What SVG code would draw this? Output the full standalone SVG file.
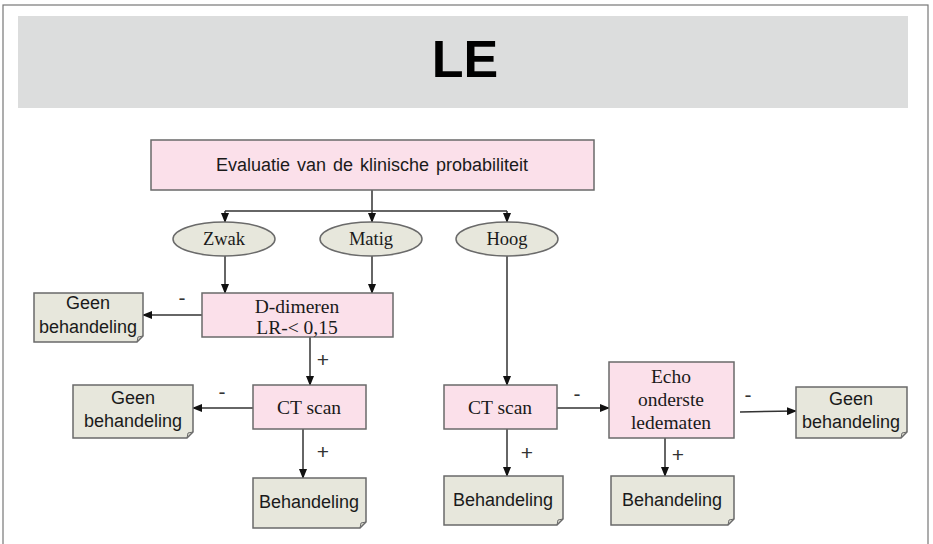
<svg xmlns="http://www.w3.org/2000/svg" width="933" height="544" viewBox="0 0 933 544">
<style>
.box{fill:#fbe0ea;stroke:#6a6a6a;stroke-width:1.5}
.note{fill:#e7e7dc;stroke:#6a6a6a;stroke-width:1.5}
.ell{fill:#e7e7dc;stroke:#6a6a6a;stroke-width:1.5}
.ln{fill:none;stroke:#333;stroke-width:1.5}
.fold{fill:none;stroke:#6a6a6a;stroke-width:1}
.sans{font-family:"Liberation Sans",Arial,sans-serif;fill:#1a1a1a;text-anchor:middle;font-size:18px}
.serif{font-family:"Liberation Serif","Times New Roman",serif;fill:#1a1a1a;text-anchor:middle;font-size:19.5px}
.sign{font-family:"Liberation Sans",Arial,sans-serif;fill:#333;font-size:21px;text-anchor:middle}
</style>
<defs>
<marker id="ah" markerWidth="10" markerHeight="8" refX="9" refY="4" orient="auto" markerUnits="userSpaceOnUse">
<path d="M0,0 L10,4 L0,8 Z" fill="#111"/>
</marker>
</defs>
<rect x="3" y="5" width="925" height="545" fill="#ffffff" stroke="#777" stroke-width="1.2"/>
<rect x="18" y="16" width="890" height="92" fill="#dcdddd"/>
<text x="465" y="77" class="sans" style="font-size:52px;font-weight:bold;fill:#000">LE</text>

<g id="connectors">
<path class="ln" d="M372,190 V211"/>
<path class="ln" d="M225,211 H507"/>
<path class="ln" d="M225,211 V222" marker-end="url(#ah)"/>
<path class="ln" d="M372,211 V222" marker-end="url(#ah)"/>
<path class="ln" d="M507,211 V222" marker-end="url(#ah)"/>
<path class="ln" d="M225,256 V293" marker-end="url(#ah)"/>
<path class="ln" d="M372,256 V293" marker-end="url(#ah)"/>
<path class="ln" d="M202,315 H143" marker-end="url(#ah)"/>
<path class="ln" d="M310,337 V385" marker-end="url(#ah)"/>
<path class="ln" d="M253,408 H193" marker-end="url(#ah)"/>
<path class="ln" d="M303,429 V478" marker-end="url(#ah)"/>
<path class="ln" d="M507,256 V385" marker-end="url(#ah)"/>
<path class="ln" d="M557,408 H609" marker-end="url(#ah)"/>
<path class="ln" d="M740,412 L796,411" marker-end="url(#ah)"/>
<path class="ln" d="M507,429 V476" marker-end="url(#ah)"/>
<path class="ln" d="M665,438 V476" marker-end="url(#ah)"/>
<text x="182" y="305" class="sign">-</text>
<text x="323" y="367" class="sign">+</text>
<text x="222" y="399" class="sign">-</text>
<text x="323" y="459" class="sign">+</text>
<text x="577" y="401" class="sign">-</text>
<text x="527" y="460" class="sign">+</text>
<text x="748" y="402" class="sign">-</text>
<text x="678" y="462" class="sign">+</text>
</g>

<g id="evaluatie">
<rect class="box" x="151" y="140" width="443" height="50"/>
<text x="372" y="171" class="sans" style="word-spacing:2px">Evaluatie van de klinische probabiliteit</text>
</g>
<g id="zwak">
<ellipse class="ell" cx="224" cy="239" rx="51" ry="17"/>
<text x="224" y="245" class="serif" style="font-size:18.5px">Zwak</text>
</g>
<g id="matig">
<ellipse class="ell" cx="371" cy="239" rx="51" ry="17"/>
<text x="371" y="245" class="serif" style="font-size:18.5px">Matig</text>
</g>
<g id="hoog">
<ellipse class="ell" cx="507" cy="239" rx="51" ry="17"/>
<text x="507" y="245" class="serif" style="font-size:18.5px">Hoog</text>
</g>
<g id="ddimeren">
<rect class="box" x="202" y="293" width="191" height="44"/>
<text x="297" y="313" class="serif">D-dimeren</text>
<text x="297" y="334" class="serif">LR-&lt; 0,15</text>
</g>
<g id="geen1">
<path class="note" d="M34,293 H143 V336 L137,342 H34 Z"/>
<path class="fold" d="M137,342 L138,337 L143,336"/>
<text x="88" y="309" class="sans">Geen</text>
<text x="88" y="333" class="sans">behandeling</text>
</g>
<g id="ctscan1">
<rect class="box" x="253" y="385" width="113" height="44"/>
<text x="309" y="414" class="serif">CT scan</text>
</g>
<g id="geen2">
<path class="note" d="M73,385 H193 V432 L187,438 H73 Z"/>
<path class="fold" d="M187,438 L188,433 L193,432"/>
<text x="133" y="404" class="sans">Geen</text>
<text x="133" y="427" class="sans">behandeling</text>
</g>
<g id="behandeling1">
<path class="note" d="M253,478 H366 V522 L360,528 H253 Z"/>
<path class="fold" d="M360,528 L361,523 L366,522"/>
<text x="309" y="508" class="sans">Behandeling</text>
</g>
<g id="ctscan2">
<rect class="box" x="444" y="385" width="113" height="44"/>
<text x="500" y="414" class="serif">CT scan</text>
</g>
<g id="echo">
<rect class="box" x="609" y="362" width="125" height="76"/>
<text x="671" y="383" class="serif">Echo</text>
<text x="671" y="406" class="serif">onderste</text>
<text x="671" y="429" class="serif">ledematen</text>
</g>
<g id="geen3">
<path class="note" d="M796,387 H907 V432 L901,438 H796 Z"/>
<path class="fold" d="M901,438 L902,433 L907,432"/>
<text x="851" y="405" class="sans">Geen</text>
<text x="851" y="428" class="sans">behandeling</text>
</g>
<g id="behandeling2">
<path class="note" d="M444,476 H563 V519 L557,525 H444 Z"/>
<path class="fold" d="M557,525 L558,520 L563,519"/>
<text x="503" y="506" class="sans">Behandeling</text>
</g>
<g id="behandeling3">
<path class="note" d="M611,476 H734 V519 L728,525 H611 Z"/>
<path class="fold" d="M728,525 L729,520 L734,519"/>
<text x="672" y="506" class="sans">Behandeling</text>
</g>
</svg>
